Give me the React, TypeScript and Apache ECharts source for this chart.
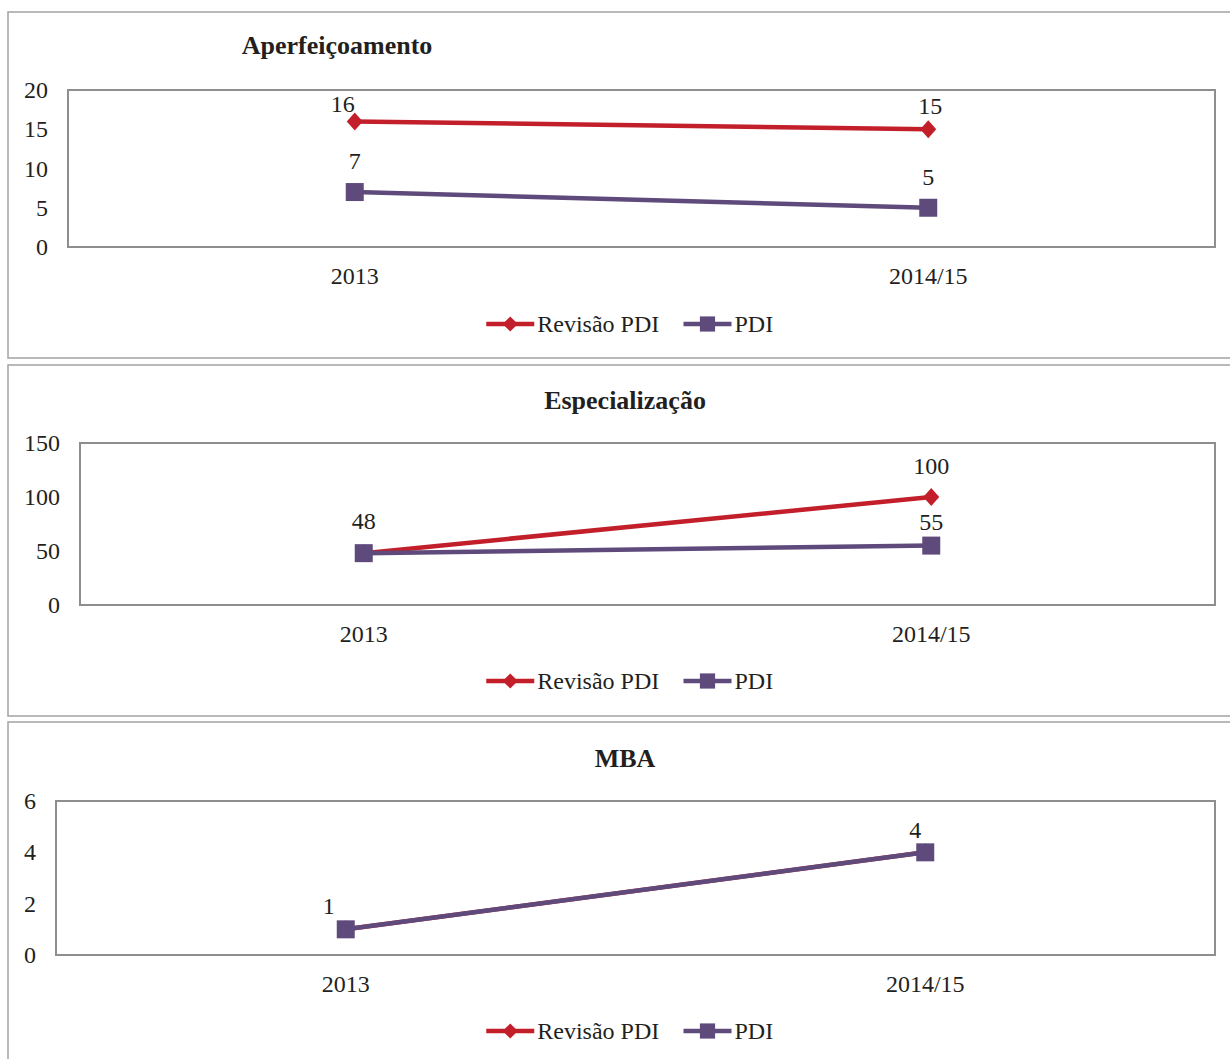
import React, { useEffect, useRef } from "react";
import * as echarts from "echarts";

const categories = ["2013", "2014/15"];
const seriesNames = ["Revisão PDI", "PDI"];
const panelTitles = ["Aperfeiçoamento", "Especialização", "MBA"];

const aperfRevisao = [16, 15];
const aperfPDI = [7, 5];
const especRevisao = [48, 100];
const especPDI = [48, 55];
const mbaRevisao = [1, 4];
const mbaPDI = [1, 4];

const yMax = [20, 150, 6];
const yInterval = [5, 50, 2];

// label placement tweaks [panel][series][point] = [dx, dy] or null (hidden)
const labelOffsets: (number[] | null)[][][] = [
  [[[-12, 4], [2, -2]], [[0, -10], [0, -10]]],
  [[null, [0, -10]], [[0, -11], [0, -3]]],
  [[[-17, -2], [-10, -1]], [null, null]],
];

const RED = "#C21F2B";
const PURPLE = "#5F4A7C";
const TEXT = "#231F20";
const FONT = "'Liberation Serif', 'Times New Roman', serif";

const panels = [
  { top: 12, height: 346, gridLeft: 68, gridTop: 90, gridH: 157, titleX: 337, titleY: 45, legendTop: 312 },
  { top: 365, height: 351, gridLeft: 80, gridTop: 443, gridH: 162, titleX: 625, titleY: 400, legendTop: 669 },
  { top: 722, height: 360, gridLeft: 56, gridTop: 801, gridH: 154, titleX: 625, titleY: 758, legendTop: 1019 },
];

export default function App() {
  const ref = useRef<HTMLDivElement>(null);
  useEffect(() => {
    if (!ref.current) return;
    const chart = echarts.init(ref.current, undefined, { renderer: "svg" });
    const data = [
      [aperfRevisao, aperfPDI],
      [especRevisao, especPDI],
      [mbaRevisao, mbaPDI],
    ];
    const grids = panels.map((p) => ({
      left: p.gridLeft,
      top: p.gridTop,
      width: 1215 - p.gridLeft,
      height: p.gridH,
      show: true,
      borderColor: "#8E8E8E",
      borderWidth: 2,
      containLabel: false,
    }));
    const xAxes = panels.map((_, i) => ({
      type: "category",
      gridIndex: i,
      data: categories,
      boundaryGap: true,
      axisLine: { show: false },
      axisTick: { show: false },
      axisLabel: { color: TEXT, fontFamily: FONT, fontSize: 24, margin: 17 },
    }));
    const yAxes = panels.map((_, i) => ({
      type: "value",
      gridIndex: i,
      min: 0,
      max: yMax[i],
      interval: yInterval[i],
      splitLine: { show: false },
      axisLine: { show: false },
      axisTick: { show: false },
      axisLabel: { color: TEXT, fontFamily: FONT, fontSize: 24, margin: 20 },
    }));
    const series: any[] = [];
    data.forEach((pair, i) => {
      pair.forEach((vals, s) => {
        const isRed = s === 0;
        const seriesData = vals.map((v, k) => {
          const off = labelOffsets[i][s][k];
          return off
            ? { value: v, label: { show: true, offset: off } }
            : { value: v, label: { show: false } };
        });
        series.push({
          type: "line",
          name: seriesNames[s],
          xAxisIndex: i,
          yAxisIndex: i,
          data: seriesData,
          symbol: isRed ? "diamond" : "rect",
          symbolSize: isRed ? [16, 18] : 18,
          lineStyle: { color: isRed ? RED : PURPLE, width: 4.5 },
          itemStyle: { color: isRed ? RED : PURPLE },
          label: {
            show: true,
            position: "top",
            distance: 0,
            color: TEXT,
            fontFamily: FONT,
            fontSize: 24,
          },
          z: isRed ? 2 : 3,
        });
      });
    });
    chart.setOption({
      animation: false,
      backgroundColor: "#ffffff",
      textStyle: { fontFamily: FONT },
      legend: panels.map((p) => ({
        data: seriesNames,
        left: 484,
        top: p.legendTop,
        itemWidth: 48,
        itemHeight: 19,
        itemGap: 22,
        padding: 0,
        lineStyle: { width: 4.5 },
        textStyle: { color: TEXT, fontFamily: FONT, fontSize: 24, padding: [0, 0, 0, -2] },
      })),
      graphic: [
        ...panels.map((p) => ({
          type: "rect",
          shape: { x: 8, y: p.top, width: 1260, height: p.height },
          style: { fill: "none", stroke: "#A3A3A3", lineWidth: 1.5 },
          silent: true,
          z: -1,
        })),
        ...panels.map((p, i) => ({
          type: "text",
          x: p.titleX,
          y: p.titleY,
          silent: true,
          style: {
            text: panelTitles[i],
            fill: TEXT,
            font: "bold 26px " + FONT,
            textAlign: "center",
            textVerticalAlign: "middle",
          },
        })),
      ],
      grid: grids,
      xAxis: xAxes,
      yAxis: yAxes,
      series,
    });
    return () => chart.dispose();
  }, []);
  return (
    <div
      ref={ref}
      style={{ position: "absolute", left: 0, top: 0, width: 1230, height: 1059 }}
    />
  );
}
